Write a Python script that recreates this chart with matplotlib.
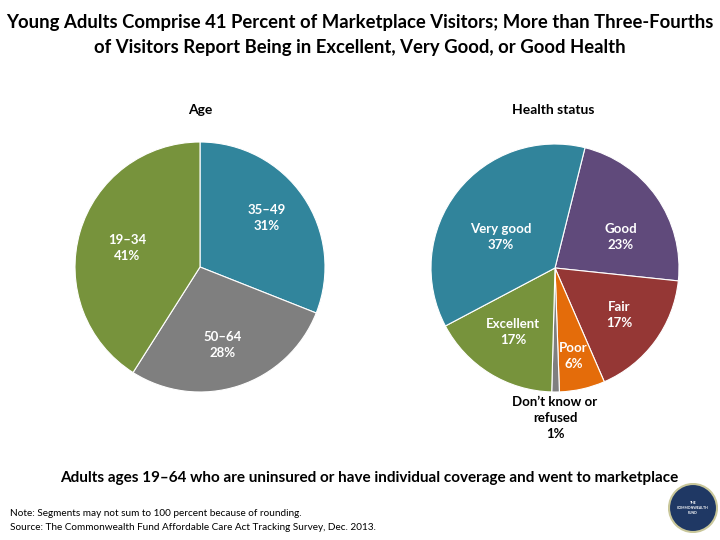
import matplotlib
matplotlib.use('Agg')
import matplotlib.pyplot as plt
from matplotlib.patches import Circle

plt.rcParams['font.family'] = ['Lato', 'DejaVu Sans']

# Age pie data (clockwise from top)
age_labels = ['35–49', '50–64', '19–34']
age_values = [31, 28, 41]
age_colors = ['#31859C', '#7F7F7F', '#77933C']
age_text_pos = [(0.53, 0.39), (0.18, -0.62), (-0.58, 0.15)]

# Health status pie data (clockwise)
health_labels = ['Good', 'Fair', 'Poor', 'Don’t know or\nrefused', 'Excellent', 'Very good']
health_values = [23, 17, 6, 1, 17, 37]
health_colors = ['#604A7B', '#953735', '#E46C0A', '#7F7F7F', '#77933C', '#31849B']
health_text_pos = [(0.53, 0.25), (0.52, -0.38), (0.15, -0.71), (0.0, -1.21),
                   (-0.34, -0.52), (-0.44, 0.25)]
health_text_color = ['white', 'white', 'white', 'black', 'white', 'white']

W, H = 720, 540
fig = plt.figure(figsize=(7.2, 5.4), dpi=100)


def px_axes(x0, y0, x1, y1):
    # pixel box (top-left origin) -> figure axes
    return fig.add_axes([x0 / W, 1 - y1 / H, (x1 - x0) / W, (y1 - y0) / H])


fig.text(0.5, 1 - 35 / H,
         'Young Adults Comprise 41 Percent of Marketplace Visitors; More than Three-Fourths\n'
         'of Visitors Report Being in Excellent, Very Good, or Good Health',
         ha='center', va='center', fontsize=13.3, fontweight='bold', linespacing=1.55)

# Age pie
ax1 = px_axes(75, 142, 325, 392)
ax1.pie(age_values, colors=age_colors, startangle=90, counterclock=False,
        radius=1, wedgeprops=dict(edgecolor='white', linewidth=0.8))
for lab, v, (x, y) in zip(age_labels, age_values, age_text_pos):
    ax1.text(x, y, f'{lab}\n{v}%', ha='center', va='center', color='white',
             fontsize=9.5, fontweight='bold', linespacing=1.4)
ax1.set_xlim(-1, 1)
ax1.set_ylim(-1, 1)
ax1.set_aspect('equal')
ax1.axis('off')
fig.text(200 / W, 1 - 110 / H, 'Age', ha='center', va='center',
         fontsize=10, fontweight='bold')

# Health pie
ax2 = px_axes(431, 144, 679, 392)
ax2.pie(health_values, colors=health_colors, startangle=76, counterclock=False,
        radius=1, wedgeprops=dict(edgecolor='white', linewidth=0.8))
for lab, v, (x, y), c in zip(health_labels, health_values, health_text_pos,
                             health_text_color):
    ax2.text(x, y, f'{lab}\n{v}%', ha='center', va='center', color=c,
             fontsize=9.5, fontweight='bold', linespacing=1.4, clip_on=False)
ax2.set_xlim(-1, 1)
ax2.set_ylim(-1, 1)
ax2.set_aspect('equal')
ax2.axis('off')
fig.text(553 / W, 1 - 110 / H, 'Health status', ha='center', va='center',
         fontsize=10, fontweight='bold')

fig.text(369 / W, 1 - 478 / H,
         'Adults ages 19–64 who are uninsured or have individual coverage and went to marketplace',
         ha='center', va='center', fontsize=11, fontweight='bold')

fig.text(10 / W, 1 - 513 / H,
         'Note: Segments may not sum to 100 percent because of rounding.',
         ha='left', va='center', fontsize=7.2)
fig.text(10 / W, 1 - 527 / H,
         'Source: The Commonwealth Fund Affordable Care Act Tracking Survey, Dec. 2013.',
         ha='left', va='center', fontsize=7.2)

# logo
lax = px_axes(668, 483, 718, 533)
lax.set_xlim(-1, 1)
lax.set_ylim(-1, 1)
lax.set_aspect('equal')
lax.axis('off')
lax.add_patch(Circle((0, 0), 0.96, facecolor='#1F3864', edgecolor='#C9C79A', linewidth=1.5))
lax.text(0, 0, 'THE\nCOMMONWEALTH\nFUND', ha='center', va='center',
         color='white', fontsize=2.5, fontweight='bold', linespacing=1.3)

fig.savefig('out.png', dpi=100)
